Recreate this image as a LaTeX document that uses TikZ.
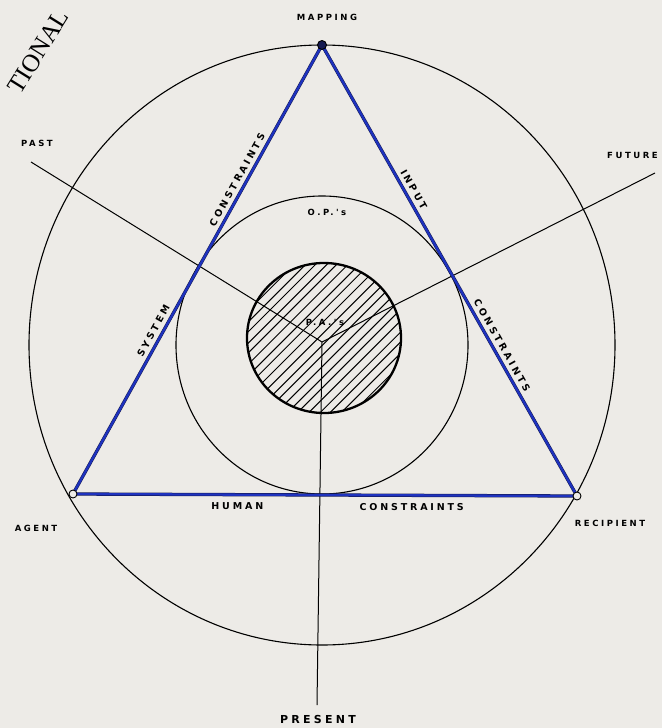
\documentclass[tikz,border=0pt]{standalone}
\usepackage{fontspec}
\newfontfamily\handfont[LetterSpace=30]{DejaVu Sans}
\newfontfamily\typefont{Liberation Serif}
\usetikzlibrary{calc}

\definecolor{paper}{RGB}{237,235,231}
\definecolor{inkblue}{RGB}{30,50,190}
\definecolor{inkdark}{RGB}{20,25,80}

\pgfdeclarelayer{paperlayer}
\pgfdeclarelayer{vertexlayer}
\pgfsetlayers{paperlayer,main,vertexlayer}

\tikzset{
  ring/.style={draw=black, line width=1.1pt},
  spoke/.style={draw=black, line width=1pt},
  edgeline/.style={draw=inkdark, line width=0.5pt, double=inkblue, double distance=2.3pt},
  vertex/.style={circle, draw=black, line width=0.9pt, fill=paper, inner sep=0pt, minimum size=8pt},
  lbl/.style={font=\handfont\bfseries\fontsize{9.5}{11}\selectfont, text=black, inner sep=1pt},
  smalllbl/.style={font=\handfont\bfseries\fontsize{8.5}{10}\selectfont, text=black, inner sep=1pt},
}

\begin{document}
\begin{tikzpicture}[x=1pt,y=-1pt]
\begin{pgfonlayer}{paperlayer}
  \fill[paper] (0,0) rectangle (662,728);
\end{pgfonlayer}
\useasboundingbox (0,0) rectangle (662,728);
% hub and free ends of the spokes
\coordinate (hub) at (322,342);
\coordinate (pastEnd) at (31,162);
\coordinate (futureEnd) at (655,173);
\coordinate (presentEnd) at (317,705);
% rings
\draw[ring] (322,345) ellipse [x radius=293, y radius=300];
\draw[ring] (322,345) ellipse [x radius=146, y radius=149];
% hatched core
\begin{scope}
  \clip (324,338) ellipse [x radius=77, y radius=75];
  \foreach \d in {-73,-65,-58,-50,-43,-35,-27,-20,-12,-4,4,11,19,27,34,42,50,57,65,73} {
    \draw[line width=1pt] ($(324,338)+(\d*0.7071,\d*0.7071)+(-110,110)$) -- ++(220,-220);
  }
\end{scope}
\draw[line width=2.3pt] (324,338) ellipse [x radius=77, y radius=75];
% spokes
\draw[spoke] (pastEnd) -- (hub);
\draw[spoke] (futureEnd) -- (hub);
\draw[spoke] (hub) -- (presentEnd);
% triangle vertices
\begin{pgfonlayer}{vertexlayer}
  \node[vertex, fill=inkdark, minimum size=9pt] (mapping) at (322,45) {};
  \node[vertex] (agent) at (73,494) {};
  \node[vertex] (recipient) at (577,496) {};
\end{pgfonlayer}
% triangle edges
\draw[edgeline] (agent.center) -- (mapping.center)
  node[lbl, sloped, above=4pt, pos=0.354] {SYSTEM}
  node[lbl, sloped, above=4pt, pos=0.69] {CONSTRAINTS};
\draw[edgeline] (mapping.center) -- (recipient.center)
  node[lbl, sloped, above=4pt, pos=0.33] {INPUT}
  node[lbl, sloped, above=4pt, pos=0.676] {CONSTRAINTS};
\draw[edgeline] (agent.center) -- (recipient.center)
  node[lbl, below=7pt, pos=0.326] {HUMAN}
  node[lbl, below=7pt, pos=0.672] {CONSTRAINTS};
% labels
\node[smalllbl] (mapLbl) at (327,17) {MAPPING};
\node[smalllbl] (pastLbl) at (37,143) {PAST};
\node[smalllbl, anchor=west] (futureLbl) at (606,155) {FUTURE};
\node[smalllbl] (agentLbl) at (36,528) {AGENT};
\node[smalllbl] (recipLbl) at (610,523) {RECIPIENT};
\node[lbl, font=\handfont\bfseries\fontsize{11}{12}\selectfont] (presentLbl) at (318,719) {PRESENT};
\node[smalllbl] (opLbl) at (327,212) {O.P.'s};
\node[smalllbl] (paLbl) at (325,322) {P.A.'s};
\node[font=\typefont\fontsize{25}{25}\selectfont, rotate=58, anchor=base east, inner sep=0pt] (cornerText) at (70,16) {TIONAL};
\end{tikzpicture}
\end{document}
